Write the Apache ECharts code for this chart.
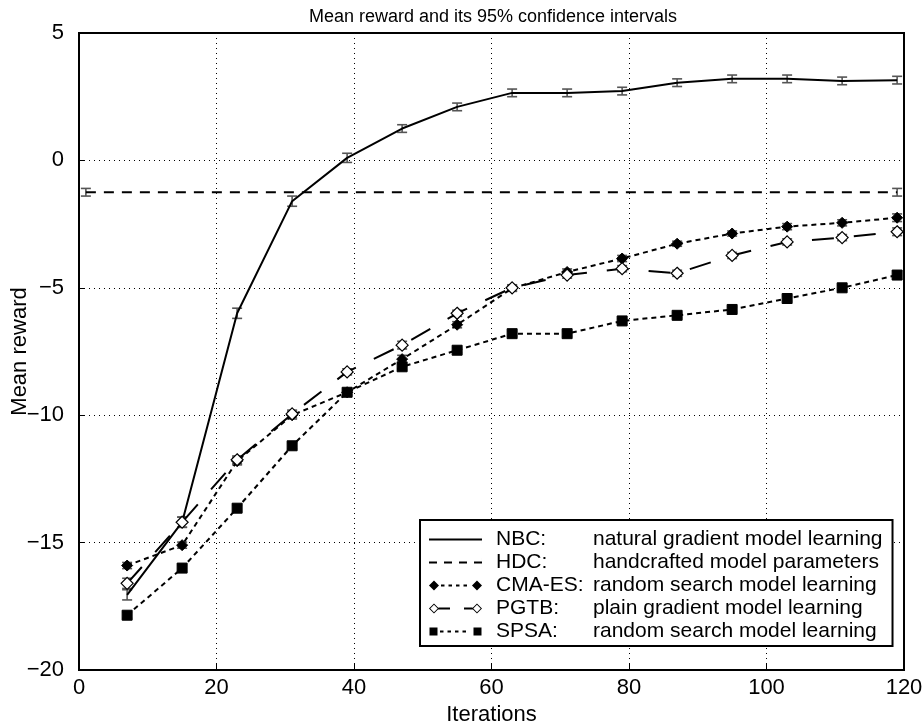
<!DOCTYPE html>
<html>
<head>
<meta charset="utf-8">
<script src="https://cdn.jsdelivr.net/npm/echarts@6/dist/echarts.min.js"></script>
<style>html,body{margin:0;padding:0;background:#fff}#c{width:922px;height:726px}</style>
</head>
<body>
<div id="c"></div>
<script>
const iterations = [7, 15, 23, 31, 39, 47, 55, 63, 71, 79, 87, 95, 103, 111, 119];
const nbc   = [-17.05, -14.2, -6.0, -1.6, 0.1, 1.25, 2.1, 2.65, 2.65, 2.72, 3.05, 3.2, 3.2, 3.12, 3.15];
const nbcErr= [0.2, 0.2, 0.2, 0.2, 0.18, 0.15, 0.15, 0.15, 0.15, 0.15, 0.15, 0.15, 0.15, 0.15, 0.15];
const hdcX  = [1, 119];
const hdc   = [-1.25, -1.25];
const hdcErr= [0.15, 0.15];
const cmaes = [-15.9, -15.1, -11.8, -10.0, -9.1, -7.8, -6.45, -5.02, -4.38, -3.85, -3.27, -2.87, -2.6, -2.45, -2.25];
const cmaesErr=[0.12, 0.12, 0.15, 0.15, 0.12, 0.15, 0.12, 0.12, 0.12, 0.12, 0.1, 0.1, 0.12, 0.12, 0.15];
const pgtb  = [-16.6, -14.2, -11.75, -9.95, -8.3, -7.25, -6.0, -5.0, -4.5, -4.25, -4.43, -3.73, -3.2, -3.03, -2.8];
const pgtbErr=[0.2, 0.2, 0.15, 0.15, 0.12, 0.15, 0.12, 0.12, 0.12, 0.12, 0.12, 0.12, 0.12, 0.12, 0.15];
const spsa  = [-17.85, -16.0, -13.65, -11.2, -9.1, -8.1, -7.45, -6.8, -6.8, -6.3, -6.08, -5.85, -5.42, -5.0, -4.5];
const spsaErr=[0.12, 0.12, 0.12, 0.12, 0.1, 0.12, 0.1, 0.1, 0.1, 0.1, 0.1, 0.1, 0.1, 0.1, 0.15];

const xTicks = [0, 20, 40, 60, 80, 100, 120];
const yTicks = [-20, -15, -10, -5, 0, 5];

const legendNames = ['NBC:', 'HDC:', 'CMA-ES:', 'PGTB:', 'SPSA:'];
const legendDesc = [
  'natural gradient model learning',
  'handcrafted model parameters',
  'random search model learning',
  'plain gradient model learning',
  'random search model learning'
];

const FONT = 'Liberation Sans, Arial, sans-serif';

// legend icon shapes (53 x 10 box, centre line at y=5)
function dashes(x0, x1, d, g, h) {
  let s = '';
  for (let x = x0; x + d <= x1 + 0.01; x += d + g) {
    s += 'M' + x + ' ' + (5 - h / 2) + 'H' + (x + d) + 'V' + (5 + h / 2) + 'H' + x + 'Z';
  }
  return s;
}
function diamond(cx, r) {
  return 'M' + (cx - r) + ' 5L' + cx + ' ' + (5 - r) + 'L' + (cx + r) + ' 5L' + cx + ' ' + (5 + r) + 'Z';
}
function openDiamond(cx, r) {
  const q = r - 1.3;
  return diamond(cx, r) + 'M' + (cx - q) + ' 5L' + cx + ' ' + (5 + q) + 'L' + (cx + q) + ' 5L' + cx + ' ' + (5 - q) + 'Z';
}
function square(cx, r) {
  return 'M' + (cx - r) + ' ' + (5 - r) + 'H' + (cx + r) + 'V' + (5 + r) + 'H' + (cx - r) + 'Z';
}
const box = 'M0 0H0.01V10H0Z M53 0H53.01V10H53Z';
const legendIcons = [
  'path://' + box + 'M0 4H53V6H0Z',
  'path://' + box + dashes(0, 53, 8, 7, 2),
  'path://' + box + diamond(5, 5) + dashes(12, 43, 3.5, 4, 2) + diamond(48, 5),
  'path://' + box + openDiamond(5, 5) + 'M9.5 4H21V6H9.5Z' + 'M35 4H43.5V6H35Z' + openDiamond(48, 5),
  'path://' + box + square(4.5, 4) + dashes(11, 44, 3.5, 4, 2) + square(48.5, 4)
];

function pairs(xs, ys) { return xs.map((x, i) => [x, ys[i]]); }
function errData(xs, ys, es) { return xs.map((x, i) => [x, ys[i] - es[i], ys[i] + es[i]]); }

function errSeries(xs, ys, es) {
  return {
    type: 'custom',
    silent: true,
    z: 3,
    data: errData(xs, ys, es),
    encode: { x: 0, y: [1, 2] },
    renderItem: function (params, api) {
      const x = api.value(0);
      const lo = api.coord([x, api.value(1)]);
      const hi = api.coord([x, api.value(2)]);
      const w = 5;
      const st = { stroke: '#555', lineWidth: 1.6 };
      return {
        type: 'group',
        children: [
          { type: 'line', shape: { x1: lo[0], y1: lo[1], x2: hi[0], y2: hi[1] }, style: st },
          { type: 'line', shape: { x1: lo[0] - w, y1: lo[1], x2: lo[0] + w, y2: lo[1] }, style: st },
          { type: 'line', shape: { x1: hi[0] - w, y1: hi[1], x2: hi[0] + w, y2: hi[1] }, style: st }
        ]
      };
    }
  };
}

const minus = v => String(v).replace('-', '\u2212');

const option = {
  animation: false,
  backgroundColor: '#fff',
  title: {
    text: 'Mean reward and its 95% confidence intervals',
    left: 488, textAlign: 'center', top: 3,
    textStyle: { fontFamily: FONT, fontSize: 18, fontWeight: 'normal', color: '#000' }
  },
  grid: { left: 79, right: 18, top: 33, bottom: 56, containLabel: false, outerBoundsMode: 'none',
    show: true, borderColor: '#000', borderWidth: 2, backgroundColor: 'transparent' },
  xAxis: {
    type: 'value', min: xTicks[0], max: xTicks[xTicks.length - 1], interval: 20,
    name: 'Iterations', nameLocation: 'middle', nameGap: 34, nameMoveOverlap: false,
    nameTextStyle: { fontFamily: FONT, fontSize: 22, color: '#000' },
    axisLine: { show: true, onZero: false, lineStyle: { color: '#000', width: 2 } },
    axisTick: { show: true, inside: true, length: 6, lineStyle: { color: '#000' } },
    axisLabel: { fontFamily: FONT, fontSize: 22, color: '#000', margin: 7, formatter: minus },
    splitLine: { show: true, lineStyle: { color: '#000', type: [1, 4], width: 1 } }
  },
  yAxis: {
    type: 'value', min: yTicks[0], max: yTicks[yTicks.length - 1], interval: 5,
    name: 'Mean reward', nameLocation: 'middle', nameGap: 48, nameMoveOverlap: false,
    nameTextStyle: { fontFamily: FONT, fontSize: 22, color: '#000' },
    axisLine: { show: true, onZero: false, lineStyle: { color: '#000', width: 2 } },
    axisTick: { show: true, inside: true, length: 6, lineStyle: { color: '#000' } },
    axisLabel: { fontFamily: FONT, fontSize: 22, color: '#000', margin: 15, formatter: minus },
    splitLine: { show: true, lineStyle: { color: '#000', type: [1, 4], width: 1 } }
  },
  legend: {
    left: 420, top: 520, width: 475,
    orient: 'vertical',
    backgroundColor: '#fff',
    borderColor: '#000', borderWidth: 2,
    padding: [9, 10, 4, 9],
    itemWidth: 53, itemHeight: 10, itemGap: 2,
    data: legendNames.map((n, i) => ({ name: n, icon: legendIcons[i], itemStyle: { color: '#000', borderWidth: 0, opacity: 1 } })),
    formatter: name => '{a|' + name + '}{b|' + legendDesc[legendNames.indexOf(name)] + '}',
    textStyle: {
      fontFamily: FONT, fontSize: 21, color: '#000',
      rich: {
        a: { fontFamily: FONT, fontSize: 21, color: '#000', width: 97, padding: [0, 0, 0, 9], lineHeight: 21 },
        b: { fontFamily: FONT, fontSize: 21, color: '#000', lineHeight: 21 }
      }
    }
  },
  series: [
    { name: 'NBC:', type: 'line', data: pairs(iterations, nbc), symbol: 'none', z: 4,
      lineStyle: { color: '#000', width: 2 }, itemStyle: { color: '#000' } },
    { name: 'HDC:', type: 'line', data: pairs(hdcX, hdc), symbol: 'none', z: 4,
      lineStyle: { color: '#000', width: 2, type: [10, 8] }, itemStyle: { color: '#000' } },
    { name: 'CMA-ES:', type: 'line', data: pairs(iterations, cmaes), symbol: 'diamond', symbolSize: 11, z: 5,
      lineStyle: { color: '#000', width: 2, type: [5, 4] }, itemStyle: { color: '#000', borderColor: '#000' } },
    { name: 'PGTB:', type: 'line', data: pairs(iterations, pgtb), symbol: 'diamond', symbolSize: 12, z: 5,
      lineStyle: { color: '#000', width: 2, type: [22, 20] }, itemStyle: { color: '#fff', borderColor: '#000', borderWidth: 1.2 } },
    { name: 'SPSA:', type: 'line', data: pairs(iterations, spsa), symbol: 'rect', symbolSize: 10, z: 5,
      lineStyle: { color: '#000', width: 2, type: [5, 4] }, itemStyle: { color: '#000', borderColor: '#000' } },
    errSeries(iterations, nbc, nbcErr),
    errSeries(hdcX, hdc, hdcErr),
    errSeries(iterations, cmaes, cmaesErr),
    errSeries(iterations, pgtb, pgtbErr),
    errSeries(iterations, spsa, spsaErr)
  ]
};

const chart = echarts.init(document.getElementById('c'), null, { renderer: 'canvas' });
chart.setOption(option);
</script>
</body>
</html>
